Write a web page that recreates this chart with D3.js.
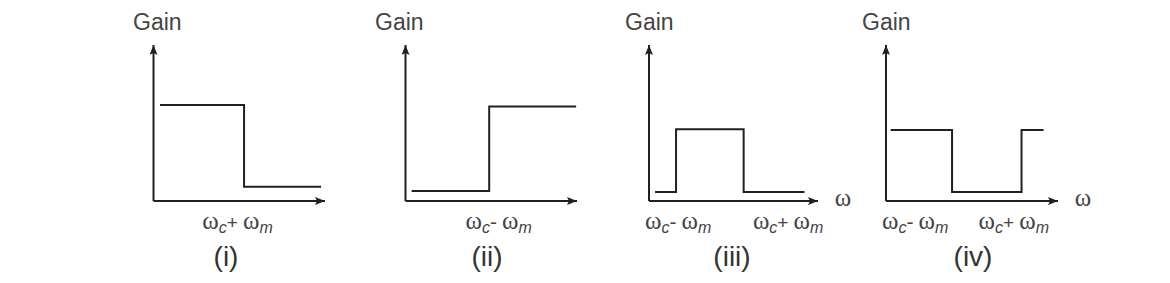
<!DOCTYPE html>
<html>
<head>
<meta charset="utf-8">
<script src="https://cdn.jsdelivr.net/npm/d3@7"></script>
<style>
  body { margin: 0; background: #fff; }
  svg { display: block; }
</style>
</head>
<body>
<div id="chart"></div>
<script>
// captions under each panel
var captions = ["(i)", "(ii)", "(iii)", "(iv)"];

// gain curves, [frequency, gain] breakpoints (step-after), axis units 0..10
var gainI   = [[0.38, 6.15], [5.28, 0.92], [9.77, 0.92]];
var gainII  = [[0.36, 0.64], [4.88, 6.05], [9.95, 6.05]];
var gainIII = [[0.36, 0.58], [1.60, 4.60], [5.60, 0.58], [9.20, 0.58]];
var gainIV  = [[0.27, 4.55], [3.84, 0.58], [7.88, 4.55], [9.16, 4.55]];
var series = [gainI, gainII, gainIII, gainIV];

// tick labels on frequency axis: [position, sign]
var ticksI   = [[4.90, "+"]];
var ticksII  = [[5.43, "-"]];
var ticksIII = [[1.73, "-"], [8.23, "+"]];
var ticksIV  = [[1.70, "-"], [7.43, "+"]];
var tickLabels = [ticksI, ticksII, ticksIII, ticksIV];

// show the omega axis title?
var omegaTitle = [false, false, true, true];

// panel layout (pixels)
var panels = [
  {x0: 153.5, x1: 325, gainX: 133, capX: 226},
  {x0: 405.5, x1: 577, gainX: 375, capX: 487},
  {x0: 649,   x1: 818, gainX: 625, capX: 732},
  {x0: 886,   x1: 1058, gainX: 862, capX: 973}
];
var yBase = 201, yTop = 45;

var svg = d3.select("#chart").append("svg")
    .attr("width", 1170)
    .attr("height", 283);

var ink = "#231f20";
var sans = "Liberation Sans, Arial, sans-serif";
var serif = "Liberation Serif, Times New Roman, serif";

// arrow marker
svg.append("defs").append("marker")
    .attr("id", "arrow")
    .attr("viewBox", "0 0 10 8")
    .attr("refX", 10).attr("refY", 4)
    .attr("markerWidth", 10).attr("markerHeight", 8)
    .attr("markerUnits", "userSpaceOnUse")
    .attr("orient", "auto")
  .append("path")
    .attr("d", "M0,0 L10,4 L0,8 L2,4 Z")
    .attr("fill", ink);

panels.forEach(function(p, i) {
  var x = d3.scaleLinear().domain([0, 10]).range([p.x0, p.x1]);
  var y = d3.scaleLinear().domain([0, 10]).range([yBase, yTop]);

  var g = svg.append("g");

  // axes
  g.append("line")
      .attr("x1", x(0)).attr("y1", y(0))
      .attr("x2", x(0)).attr("y2", y(10))
      .attr("stroke", ink).attr("stroke-width", 2)
      .attr("marker-end", "url(#arrow)");
  g.append("line")
      .attr("x1", x(0)).attr("y1", y(0))
      .attr("x2", x(10)).attr("y2", y(0))
      .attr("stroke", ink).attr("stroke-width", 2)
      .attr("marker-end", "url(#arrow)");

  // gain curve
  var line = d3.line()
      .x(function(d) { return x(d[0]); })
      .y(function(d) { return y(d[1]); })
      .curve(d3.curveStepAfter);
  g.append("path")
      .datum(series[i])
      .attr("d", line)
      .attr("fill", "none")
      .attr("stroke", ink)
      .attr("stroke-width", 2);

  // Gain title
  g.append("text")
      .attr("x", p.gainX).attr("y", 30)
      .attr("font-family", sans)
      .attr("font-size", 23)
      .attr("fill", "#444")
      .text("Gain");

  // tick labels
  tickLabels[i].forEach(function(t) {
    var txt = g.append("text")
        .attr("x", x(t[0])).attr("y", 229)
        .attr("text-anchor", "middle")
        .attr("fill", "#444");
    txt.append("tspan").attr("font-family", serif).attr("font-size", 25).text("\u03c9");
    txt.append("tspan").attr("font-family", sans).attr("font-style", "italic")
        .attr("font-size", 16).attr("dy", 4).text("c");
    txt.append("tspan").attr("font-family", sans)
        .attr("font-size", t[1] === "+" ? 19 : 21).attr("dy", -4).text(t[1]);
    txt.append("tspan").attr("font-family", serif).attr("font-size", 25)
        .attr("dx", 5).text("\u03c9");
    txt.append("tspan").attr("font-family", sans).attr("font-style", "italic")
        .attr("font-size", 16).attr("dy", 4).text("m");
  });

  // omega axis title
  if (omegaTitle[i]) {
    g.append("text")
        .attr("x", x(10) + 25).attr("y", 206)
        .attr("text-anchor", "middle")
        .attr("font-family", serif)
        .attr("font-size", 25)
        .attr("fill", "#444")
        .text("\u03c9");
  }

  // caption
  g.append("text")
      .attr("x", p.capX).attr("y", 266)
      .attr("text-anchor", "middle")
      .attr("font-family", sans)
      .attr("font-size", 28)
      .attr("fill", "#333")
      .text(captions[i]);
});
</script>
</body>
</html>
